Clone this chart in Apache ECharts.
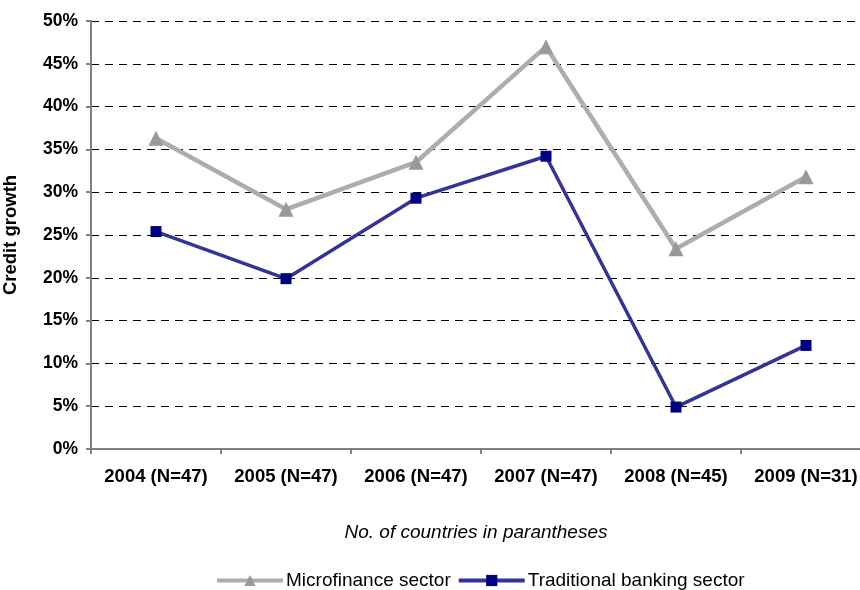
<!DOCTYPE html>
<html><head><meta charset="utf-8">
<script src="https://cdn.jsdelivr.net/npm/echarts@6/dist/echarts.min.js"></script>
<style>html,body{margin:0;padding:0;background:#fff}#c{width:860px;height:590px}</style>
</head><body><div id="c"></div>
<script>
const categories = ['2004 (N=47)','2005 (N=47)','2006 (N=47)','2007 (N=47)','2008 (N=45)','2009 (N=31)'];
const microfinance = [36.3, 28.0, 33.5, 47.0, 23.4, 31.8];
const banking = [25.4, 19.9, 29.3, 34.2, 4.9, 12.1];
const chart = echarts.init(document.getElementById('c'));
const font = 'Liberation Sans, Arial, sans-serif';
chart.setOption({
  animation: false,
  textStyle: {fontFamily: font},
  grid: {left: 91, top: 21, width: 780, height: 428, containLabel: false, outerBoundsMode: 'none'},
  xAxis: {
    type: 'category', data: categories, boundaryGap: true,
    axisLine: {lineStyle: {color: '#808080', width: 2}},
    axisTick: {show: true, interval: 0, length: 5, lineStyle: {color: '#808080', width: 2}},
    axisLabel: {interval: 0, color: '#000', fontWeight: 'bold', fontSize: 18.5, margin: 18, fontFamily: font},
    name: 'No. of countries in parantheses', nameLocation: 'middle', nameGap: 74,
    nameTextStyle: {fontStyle: 'italic', fontSize: 19, color: '#000', fontFamily: font, padding: [0, 10, 0, 0]}
  },
  yAxis: {
    type: 'value', min: 0, max: 50, interval: 5,
    axisLine: {show: true, lineStyle: {color: '#808080', width: 2}},
    axisTick: {show: true, length: 5, lineStyle: {color: '#808080', width: 2}},
    axisLabel: {color: '#000', fontWeight: 'bold', fontSize: 17.5, margin: 13, formatter: '{value}%', fontFamily: font},
    splitLine: {show: true, lineStyle: {color: '#000', type: [8, 6], width: 1}},
    name: 'Credit growth', nameLocation: 'middle', nameGap: 71, nameRotate: 90,
    nameTextStyle: {fontWeight: 'bold', fontSize: 18.5, color: '#000', fontFamily: font}
  },
  legend: {
    top: 571, left: 215, padding: 0, itemGap: 6, itemWidth: 66, itemHeight: 14,
    lineStyle: {width: 4},
    textStyle: {fontSize: 19, color: '#000', fontFamily: font, padding: [0, 0, 0, -2]},
    data: ['Microfinance sector', 'Traditional banking sector']
  },
  series: [
    {name: 'Microfinance sector', type: 'line', data: microfinance,
     symbol: 'triangle', symbolSize: 15,
     lineStyle: {color: '#ADADAD', width: 4.5}, itemStyle: {color: '#999999'}},
    {name: 'Traditional banking sector', type: 'line', data: banking,
     symbol: 'rect', symbolSize: 11,
     lineStyle: {color: '#333399', width: 3.5}, itemStyle: {color: '#000080'}}
  ]
});
</script></body></html>
